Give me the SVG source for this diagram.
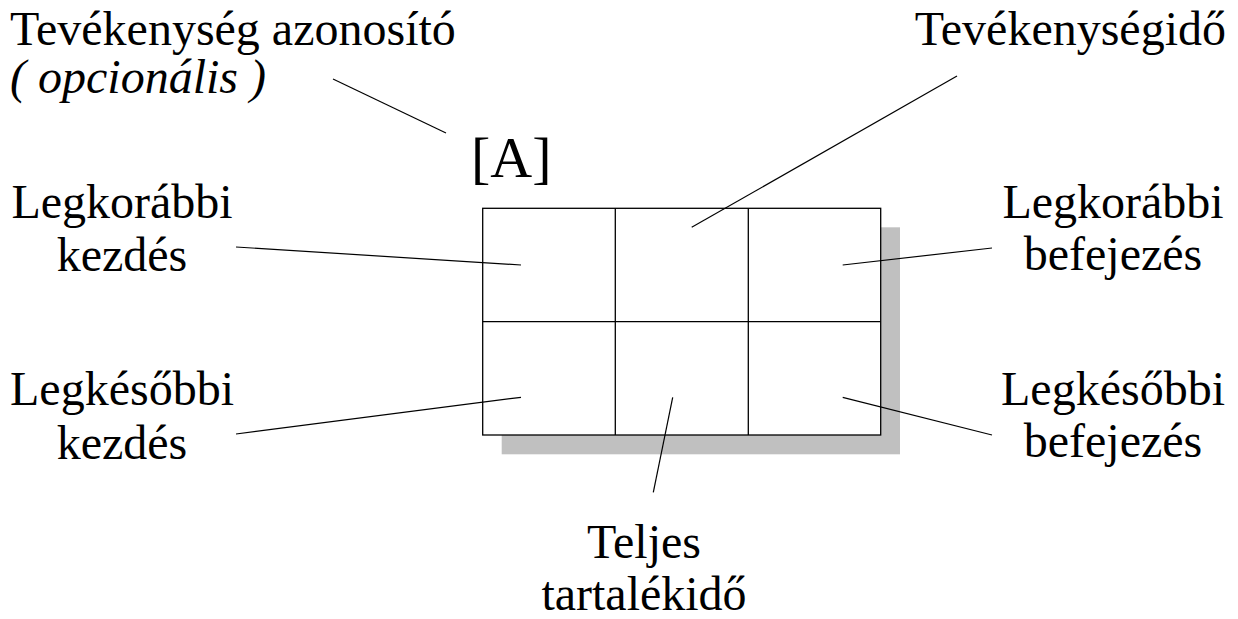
<svg xmlns="http://www.w3.org/2000/svg" width="1238" height="619" viewBox="0 0 1238 619">
<style>
.c{text-anchor:middle}
.r{text-anchor:end}
.grid{stroke:#000;stroke-width:1.3}
.conn line{stroke:#000;stroke-width:1.2}
</style>
<rect width="1238" height="619" fill="#fff"/>
<g id="activity-box">
<rect x="501.7" y="227.3" width="398.3" height="227" fill="#c0c0c0"/>
<rect x="482.7" y="208.3" width="398" height="226.7" fill="#ffffff" class="grid"/>
<line x1="482.7" y1="321.7" x2="880.7" y2="321.7" class="grid"/>
<line x1="615.3" y1="208.3" x2="615.3" y2="435" class="grid"/>
<line x1="748.3" y1="208.3" x2="748.3" y2="435" class="grid"/>
</g>
<g id="conn" class="conn">
<line x1="333" y1="79" x2="446" y2="133"/>
<line x1="957" y1="76" x2="691.7" y2="227.3"/>
<line x1="236" y1="247" x2="521" y2="265"/>
<line x1="842.7" y1="265" x2="992" y2="248"/>
<line x1="236" y1="434" x2="521" y2="397.3"/>
<line x1="842.7" y1="397.3" x2="992" y2="435"/>
<line x1="672.7" y1="397.3" x2="653.3" y2="492.3"/>
</g>
<g font-family="Liberation Serif, Tinos, Times New Roman, DejaVu Serif, serif" font-size="48" fill="#000">
<g id="label-id">
<text x="10" y="45">Tevékenység azonosító</text>
<text x="10" y="93" font-style="italic">( opcionális )</text>
</g>
<g id="label-A"><text x="471" y="177" font-size="58">[A]</text></g>
<g id="label-duration"><text x="1226" y="45" class="r">Tevékenységidő</text></g>
<g id="label-es">
<text x="122" y="218" class="c">Legkorábbi</text>
<text x="122" y="271" class="c">kezdés</text>
</g>
<g id="label-ls">
<text x="122" y="405" class="c">Legkésőbbi</text>
<text x="122" y="459" class="c">kezdés</text>
</g>
<g id="label-ef">
<text x="1113" y="218" class="c">Legkorábbi</text>
<text x="1113" y="270" class="c">befejezés</text>
</g>
<g id="label-lf">
<text x="1113" y="405" class="c">Legkésőbbi</text>
<text x="1113" y="457" class="c">befejezés</text>
</g>
<g id="label-float">
<text x="644" y="558" class="c">Teljes</text>
<text x="644" y="610" class="c">tartalékidő</text>
</g>
</g>
</svg>
